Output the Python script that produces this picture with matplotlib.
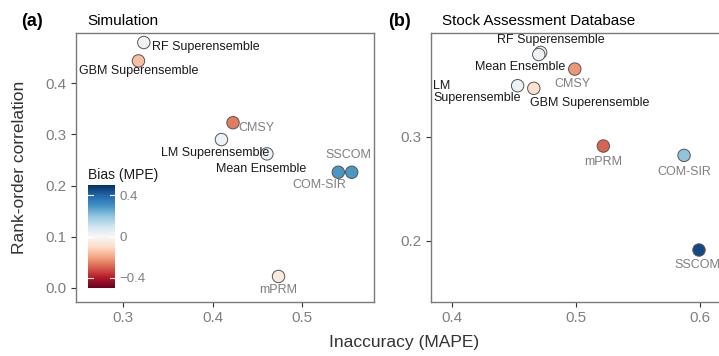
import numpy as np
import matplotlib
matplotlib.use("Agg")
import matplotlib.pyplot as plt
from matplotlib.colors import Normalize

plt.rcParams["font.family"] = ["Liberation Sans", "DejaVu Sans"]

# --- data -------------------------------------------------------------
models_a = ["RF Superensemble", "GBM Superensemble", "CMSY", "LM Superensemble",
            "Mean Ensemble", "COM-SIR", "SSCOM", "mPRM"]
mape_a = [0.323, 0.317, 0.423, 0.410, 0.461, 0.541, 0.556, 0.474]
rank_a = [0.480, 0.444, 0.323, 0.290, 0.262, 0.226, 0.226, 0.022]
bias_a = [0.02, -0.15, -0.26, 0.03, 0.03, 0.29, 0.29, -0.05]

models_b = ["RF Superensemble", "Mean Ensemble", "CMSY", "LM\nSuperensemble",
            "GBM Superensemble", "mPRM", "COM-SIR", "SSCOM"]
mape_b = [0.4715, 0.470, 0.499, 0.453, 0.466, 0.522, 0.587, 0.599]
rank_b = [0.381, 0.379, 0.365, 0.349, 0.3465, 0.291, 0.282, 0.191]
bias_b = [0.02, 0.02, -0.22, 0.03, -0.08, -0.29, 0.20, 0.45]

ensembles = {"RF Superensemble", "GBM Superensemble", "LM Superensemble",
             "LM\nSuperensemble", "Mean Ensemble"}

# label positions (data coords) and alignment, mimicking the repelled labels
lab_a = {
    "RF Superensemble": (0.332, 0.471, "left"),
    "GBM Superensemble": (0.317, 0.425, "center"),
    "CMSY": (0.429, 0.313, "left"),
    "LM Superensemble": (0.403, 0.263, "center"),
    "Mean Ensemble": (0.455, 0.233, "center"),
    "SSCOM": (0.552, 0.259, "center"),
    "COM-SIR": (0.520, 0.202, "center"),
    "mPRM": (0.474, -0.005, "center"),
}
lab_b = {
    "RF Superensemble": (0.4795, 0.3925, "center"),
    "Mean Ensemble": (0.4915, 0.3666, "right"),
    "CMSY": (0.4975, 0.351, "center"),
    "LM\nSuperensemble": (0.385, 0.343, "left"),
    "GBM Superensemble": (0.511, 0.3325, "center"),
    "mPRM": (0.522, 0.2755, "center"),
    "COM-SIR": (0.587, 0.2665, "center"),
    "SSCOM": (0.5975, 0.1765, "center"),
}

cmap = plt.get_cmap("RdBu")
norm = Normalize(vmin=-0.5, vmax=0.5)
grey = "#7f7f7f"
frame = "#7a7a7a"

fig = plt.figure(figsize=(7.19, 3.56), dpi=100)
W, H = 719, 356


def px_axes(x0, y0, x1, y1):
    return fig.add_axes([x0 / W, 1 - y1 / H, (x1 - x0) / W, (y1 - y0) / H])


ax1 = px_axes(76, 33, 374, 302)
ax2 = px_axes(430.7, 33, 735, 302)


def style(ax):
    for s in ax.spines.values():
        s.set_color(frame)
        s.set_linewidth(1.0)
    ax.tick_params(colors="#333333", labelcolor=grey, labelsize=11,
                   length=3.5, width=0.8, pad=3)


def draw(ax, mx, ry, bias, names, labs):
    ax.scatter(mx, ry, c=bias, cmap=cmap, norm=norm, s=80,
               edgecolors="#555555", linewidths=0.7, zorder=3)
    for n in names:
        x, y, ha = labs[n]
        col = "#1a1a1a" if n in ensembles else grey
        ax.text(x, y, n, ha=ha, va="center", fontsize=9, color=col,
                linespacing=1.0, zorder=4)


draw(ax1, mape_a, rank_a, bias_a, models_a, lab_a)
ax1.set_xlim(0.247, 0.581)
ax1.set_ylim(-0.028, 0.4986)
ax1.set_xticks([0.3, 0.4, 0.5])
ax1.set_yticks([0.0, 0.1, 0.2, 0.3, 0.4])
ax1.set_xticklabels(["0.3", "0.4", "0.5"])
ax1.set_yticklabels(["0.0", "0.1", "0.2", "0.3", "0.4"])
style(ax1)

draw(ax2, mape_b, rank_b, bias_b, models_b, lab_b)
ax2.set_xlim(0.383, 0.628)
ax2.set_ylim(0.141, 0.3997)
ax2.set_xticks([0.4, 0.5, 0.6])
ax2.set_yticks([0.2, 0.3])
ax2.set_xticklabels(["0.4", "0.5", "0.6"])
ax2.set_yticklabels(["0.2", "0.3"])
style(ax2)

# colour bar inside panel (a)
cax = px_axes(88, 185, 115, 288.3)
cb = fig.colorbar(plt.cm.ScalarMappable(norm=norm, cmap=cmap), cax=cax)
cb.outline.set_visible(False)
cb.set_ticks([-0.4, 0, 0.4])
cb.set_ticklabels(["\u22120.4", "0", "0.4"])
cax.tick_params(length=0, labelsize=9.5, labelcolor=grey, pad=3)
for v in [-0.4, 0, 0.4]:
    cax.plot([0.0, 0.2], [v, v], color="white", lw=0.8, transform=cax.get_yaxis_transform())
    cax.plot([0.8, 1.0], [v, v], color="white", lw=0.8, transform=cax.get_yaxis_transform())
fig.text(88 / W, 1 - 175 / H, "Bias (MPE)", fontsize=10, color="#1a1a1a",
         ha="left", va="center")

# titles and axis labels
fig.text(21 / W, 1 - 21 / H, "(a)", fontsize=13, fontweight="bold", va="center")
fig.text(87 / W, 1 - 21 / H, "Simulation", fontsize=11, va="center")
fig.text(388 / W, 1 - 21 / H, "(b)", fontsize=13, fontweight="bold", va="center")
fig.text(441.5 / W, 1 - 21 / H, "Stock Assessment Database", fontsize=11, va="center")
fig.text(404 / W, 1 - 343 / H, "Inaccuracy (MAPE)", fontsize=12.5, color="#333333",
         ha="center", va="center")
fig.text(20 / W, 1 - 167 / H, "Rank-order correlation", fontsize=12.5, color="#333333",
         ha="center", va="center", rotation=90)

fig.savefig("out.png", dpi=100)
